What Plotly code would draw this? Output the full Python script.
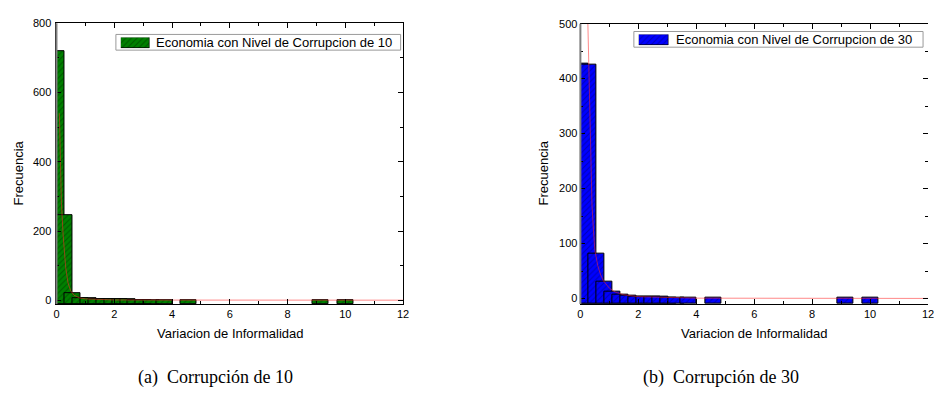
import plotly.graph_objects as go

# ---------------- data ----------------
bin_centers_a = [0.0, 0.275, 0.55, 0.825, 1.1, 1.375, 1.65, 1.925, 2.2, 2.475, 2.75, 3.025, 3.3, 3.725, 4.575, 9.15, 10.0]
freq_a = [720, 245, 22, 7, 5, 3, 3, 2, 2, 2, 1, 1, 1, 1, 1, 1, 1]

bin_centers_b = [0.0, 0.275, 0.55, 0.825, 1.1, 1.375, 1.65, 1.925, 2.2, 2.475, 2.75, 3.025, 3.3, 3.725, 4.575, 9.15, 10.0]
freq_b = [428, 426, 81, 31, 13, 7, 5, 4, 3, 3, 3, 2, 2, 1, 1, 1, 1]

fit_x_a = [0.1, 0.11, 0.15, 0.17, 0.23, 0.32, 0.4, 0.49, 0.6, 0.8, 1.0, 1.5, 2.0, 4.0, 12.0]
fit_y_a = [540, 510, 378, 283, 189, 94, 50, 28, 15, 7, 4, 2, 1, 0.6, 0.3]

fit_x_b = [0.25, 0.28, 0.30, 0.33, 0.36, 0.40, 0.45, 0.50, 0.60, 0.70, 0.80, 1.0, 1.2, 1.5, 2.0, 3.0, 4.0, 12.0]
fit_y_b = [520, 440, 380, 300, 230, 170, 125, 88, 60, 43, 32, 19, 12, 7, 3.5, 1.5, 0.8, 0.3]

legend_a = "Economia con Nivel de Corrupcion de 10"
legend_b = "Economia con Nivel de Corrupcion de 30"
caption_a = "(a)  Corrupción de 10"
caption_b = "(b)  Corrupción de 30"
x_title = "Variacion de Informalidad"
y_title = "Frecuencia"

YMIN_A, YMAX_A = -11, 800
YMIN_B, YMAX_B = -10, 500

# ---------------- geometry helpers ----------------
W, H = 934, 412
def px(x):
    return x / W
def py(y):
    return 1 - y / H

GREEN = "#008000"
BLUE = "#0000ff"
pat_a = dict(shape="/", fgcolor="rgba(0,30,0,0.85)", bgcolor=GREEN, size=4, solidity=0.25)
pat_b = dict(shape="/", fgcolor="rgba(0,0,90,0.85)", bgcolor=BLUE, size=4, solidity=0.25)
FIT = "rgba(255,40,40,0.55)"

fig = go.Figure()

# histograms: bars are drawn from the bottom of the axis frame up to the frequency
fig.add_trace(go.Bar(x=bin_centers_a, y=[f - YMIN_A for f in freq_a], base=YMIN_A, width=0.55,
                     xaxis="x", yaxis="y",
                     marker=dict(color=GREEN, pattern=pat_a, line=dict(color="black", width=1)),
                     showlegend=False))
fig.add_trace(go.Scatter(x=fit_x_a, y=fit_y_a, mode="lines", xaxis="x", yaxis="y",
                         line=dict(color=FIT, width=1), showlegend=False))
fig.add_trace(go.Bar(x=bin_centers_b, y=[f - YMIN_B for f in freq_b], base=YMIN_B, width=0.55,
                     xaxis="x2", yaxis="y2",
                     marker=dict(color=BLUE, pattern=pat_b, line=dict(color="black", width=1)),
                     showlegend=False))
fig.add_trace(go.Scatter(x=fit_x_b, y=fit_y_b, mode="lines", xaxis="x2", yaxis="y2",
                         line=dict(color=FIT, width=1), showlegend=False))

# legend swatches (small hidden axes)
fig.add_trace(go.Bar(x=[0], y=[1], width=1, xaxis="x3", yaxis="y3",
                     marker=dict(color=GREEN, pattern=pat_a, line=dict(color="black", width=1)),
                     showlegend=False, hoverinfo="skip"))
fig.add_trace(go.Bar(x=[0], y=[1], width=1, xaxis="x4", yaxis="y4",
                     marker=dict(color=BLUE, pattern=pat_b, line=dict(color="black", width=1)),
                     showlegend=False, hoverinfo="skip"))

TICKFONT = dict(family="Liberation Sans, Arial", size=11, color="black")

def xax(domain, anchor):
    return dict(domain=domain, anchor=anchor, range=[0, 12], dtick=2, tick0=0,
                showline=True, linecolor="black", linewidth=1, mirror="allticks",
                ticks="inside", ticklen=5, tickcolor="black", tickwidth=1,
                minor=dict(ticks="inside", ticklen=3, dtick=1, tickcolor="black"),
                showgrid=False, zeroline=False, tickfont=TICKFONT, fixedrange=True,
                ticklabeloverflow="allow")

def yax(domain, anchor, rng, dt, showline=True):
    return dict(domain=domain, anchor=anchor, range=rng, dtick=dt, tick0=0,
                showline=showline, linecolor="black", linewidth=1, mirror="allticks",
                ticks="inside", ticklen=5, tickcolor="black", tickwidth=1,
                minor=dict(ticks="inside", ticklen=3, dtick=dt / 2, tickcolor="black"),
                showgrid=False, zeroline=False, tickfont=TICKFONT, ticklabelstandoff=2,
                fixedrange=True)

layout = dict(
    width=W, height=H, margin=dict(l=0, r=0, t=0, b=0),
    paper_bgcolor="white", plot_bgcolor="white",
    barmode="overlay", bargap=0,
    xaxis=xax([px(54), px(404)], "y"),
    yaxis=yax([py(304), py(17.5)], "x", [YMIN_A, YMAX_A], 200),
    xaxis2=xax([px(583), 1.0], "y2"),
    yaxis2=yax([py(304), py(18)], "x2", [YMIN_B, YMAX_B], 100, showline=False),
    xaxis3=dict(domain=[px(119), px(148)], anchor="y3", range=[-0.5, 0.5], visible=False, fixedrange=True),
    yaxis3=dict(domain=[py(43), py(32)], anchor="x3", range=[0, 1], visible=False, fixedrange=True),
    xaxis4=dict(domain=[px(642), px(672)], anchor="y4", range=[-0.5, 0.5], visible=False, fixedrange=True),
    yaxis4=dict(domain=[py(40), py(29)], anchor="x4", range=[0, 1], visible=False, fixedrange=True),
    showlegend=False,
)
fig.update_layout(**layout)

shapes = []
# legend boxes
shapes.append(dict(type="rect", xref="paper", yref="paper", x0=px(114), x1=px(401.5), y0=py(45), y1=py(29),
                   line=dict(color="#9a9a9a", width=1), fillcolor="white", layer="below"))
shapes.append(dict(type="rect", xref="paper", yref="paper", x0=px(637), x1=px(929), y0=py(42), y1=py(26),
                   line=dict(color="#9a9a9a", width=1), fillcolor="white", layer="below"))
# gray left spines
shapes.append(dict(type="line", xref="paper", yref="paper", x0=px(54), x1=px(54), y0=py(304), y1=py(17.5),
                   line=dict(color="#7f7f7f", width=2)))
shapes.append(dict(type="line", xref="paper", yref="paper", x0=px(583), x1=px(583), y0=py(304), y1=py(18),
                   line=dict(color="#7f7f7f", width=2)))
fig.update_layout(shapes=shapes)

AXFONT = dict(family="Liberation Sans, Arial", size=13, color="black")
CAPFONT = dict(family="Liberation Serif, Times New Roman", size=18, color="black")
ann = [
    dict(text=legend_a, x=px(152), y=py(37), xanchor="left", yanchor="middle", font=AXFONT),
    dict(text=legend_b, x=px(678), y=py(34), xanchor="left", yanchor="middle", font=AXFONT),
    dict(text=x_title, x=px(229), y=py(334), xanchor="center", yanchor="middle", font=AXFONT),
    dict(text=x_title, x=px(758.5), y=py(334), xanchor="center", yanchor="middle", font=AXFONT),
    dict(text=y_title, x=px(16), y=py(170), xanchor="center", yanchor="middle", textangle=-90, font=AXFONT),
    dict(text=y_title, x=px(546), y=py(170), xanchor="center", yanchor="middle", textangle=-90, font=AXFONT),
    dict(text=caption_a, x=px(215), y=py(379), xanchor="center", yanchor="middle", font=CAPFONT),
    dict(text=caption_b, x=px(725), y=py(379), xanchor="center", yanchor="middle", font=CAPFONT),
]
for a in ann:
    a.update(xref="paper", yref="paper", showarrow=False)
fig.update_layout(annotations=ann)

fig.write_html("out.html", config=dict(displayModeBar=False))
